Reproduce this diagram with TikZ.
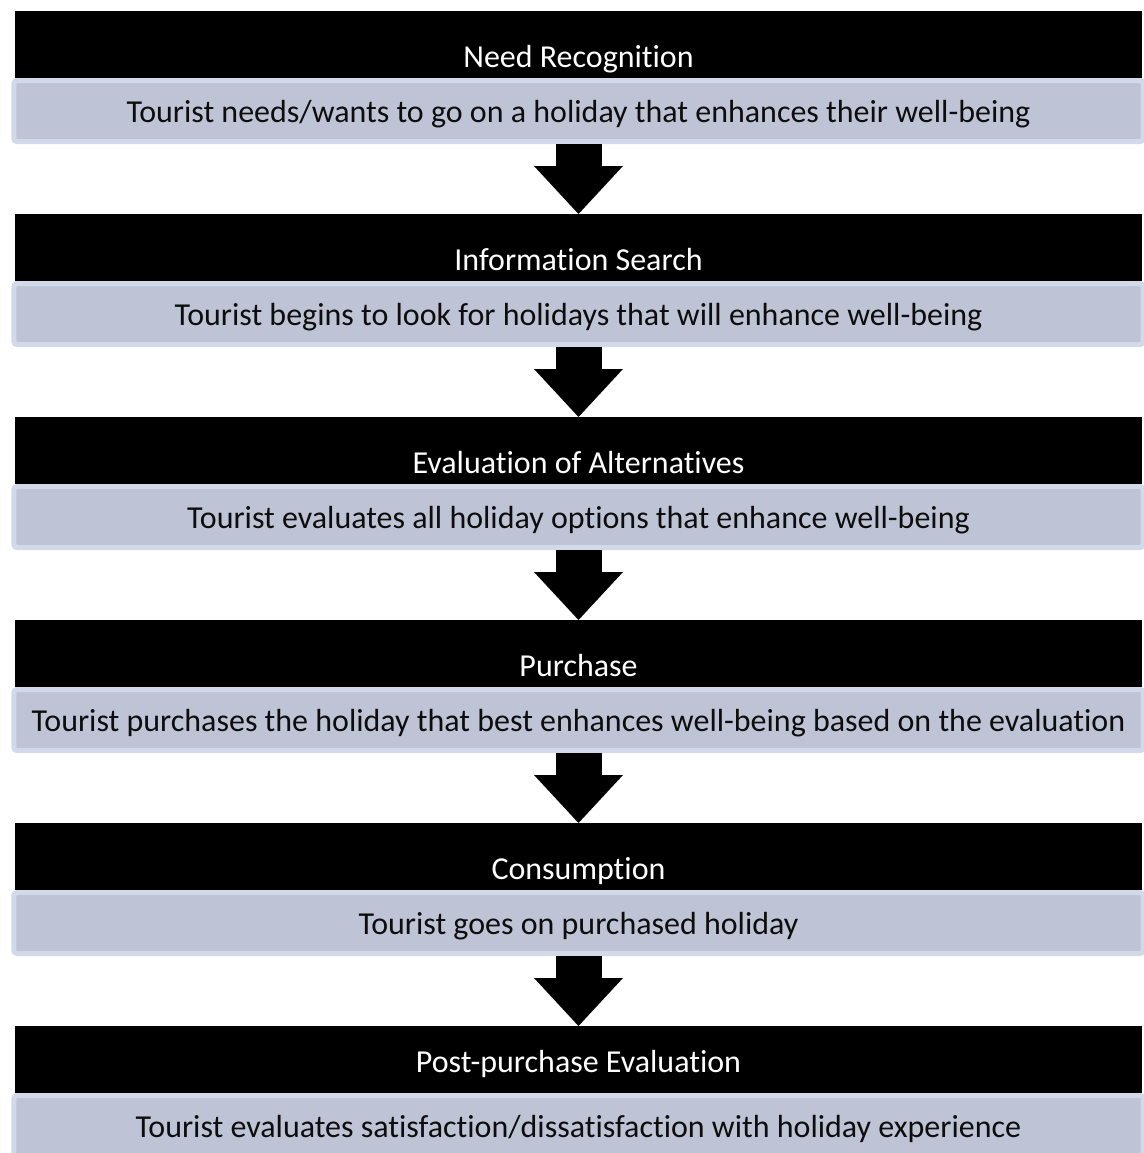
\documentclass[tikz,border=0pt]{standalone}
\usepackage{fontspec}
\setmainfont{Carlito}[RawFeature={-liga;-clig;-calt;-dlig}]
\usepackage{tikz}
\usetikzlibrary{arrows.meta,positioning}
\definecolor{BarBlack}{HTML}{000000}
\definecolor{BoxFill}{HTML}{BEC4D5}
\definecolor{BoxEdge}{HTML}{D2D9E8}
\definecolor{BodyText}{HTML}{0D0D0D}
\tikzset{
  HB/.style={rectangle,fill=BarBlack,text=white,outer sep=0pt,inner sep=0pt,
             minimum width=28.175cm,text height=1.4cm,text depth=0.275cm,
             font=\fontsize{22.75}{27}\selectfont},
  HBlast/.style={HB,text height=1.15cm,text depth=0.525cm},
  DB/.style={rectangle,rounded corners=2pt,fill=BoxFill,draw=BoxEdge,line width=0.125cm,
             inner sep=0pt,minimum width=28.225cm,text height=1.0375cm,text depth=0.4875cm,
             text=BodyText,font=\fontsize{22.75}{27}\selectfont},
  dn/.style={line width=1.15cm,BarBlack,-{Triangle[width=2.225cm,length=1.2cm,line width=0pt]}}
}
\begin{document}
\begin{tikzpicture}[
  node distance=1.75cm
]
  \useasboundingbox (0,0) rectangle (28.6cm,-28.825cm);
  \node[HB] (h1) at (14.4625cm,-1.1125cm) {Need Recognition};
  \node[DB,below=0cm of h1] (d1) {Tourist needs/wants to go on a holiday that enhances their well-being};
  \node[HB,below=of d1] (h2) {Information Search};
  \node[DB,below=0cm of h2] (d2) {Tourist begins to look for holidays that will enhance well-being};
  \node[HB,below=of d2] (h3) {Evaluation of Alternatives};
  \node[DB,below=0cm of h3] (d3) {Tourist evaluates all holiday options that enhance well-being};
  \node[HB,below=of d3] (h4) {Purchase};
  \node[DB,below=0cm of h4] (d4) {Tourist purchases the holiday that best enhances well-being based on the evaluation};
  \node[HB,below=of d4] (h5) {Consumption};
  \node[DB,below=0cm of h5] (d5) {Tourist goes on purchased holiday};
  \node[HBlast,below=of d5] (h6) {Post-purchase Evaluation};
  \node[DB,below=0cm of h6] (d6) {Tourist evaluates satisfaction/dissatisfaction with holiday experience};

  \draw[dn] (d1) -- (h2);
  \draw[dn] (d2) -- (h3);
  \draw[dn] (d3) -- (h4);
  \draw[dn] (d4) -- (h5);
  \draw[dn] (d5) -- (h6);
\end{tikzpicture}
\end{document}
